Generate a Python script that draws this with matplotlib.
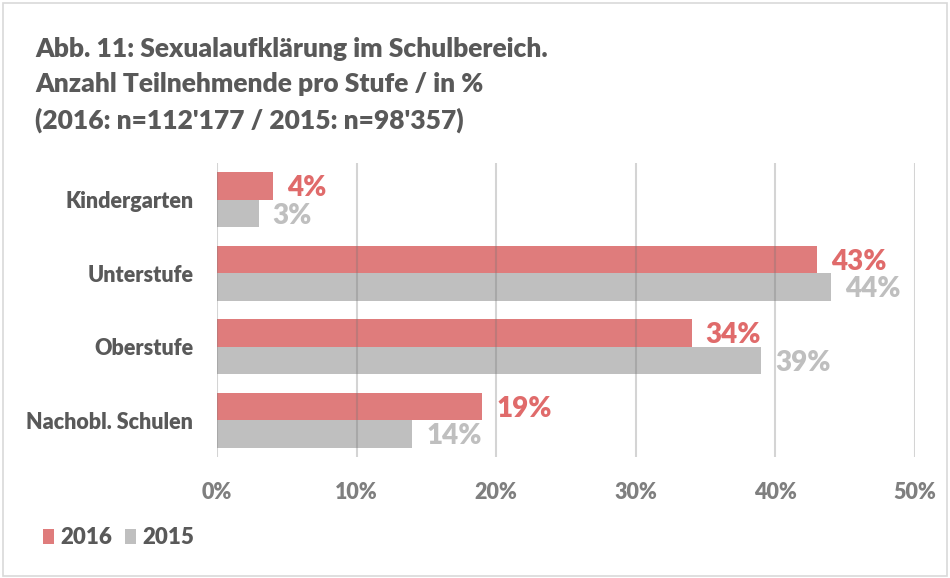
import matplotlib.pyplot as plt
import numpy as np
from matplotlib.patches import Rectangle

plt.rcParams['font.family'] = ['Lato', 'DejaVu Sans']

categories = ['Kindergarten', 'Unterstufe', 'Oberstufe', 'Nachobl. Schulen']
values_2016 = [4, 43, 34, 19]
values_2015 = [3, 44, 39, 14]
series_labels = ['2016', '2015']
xticks = [0, 10, 20, 30, 40, 50]

red = '#DF7C7C'
red_text = '#E06B6B'
gray = '#BFBFBF'
text_gray = '#595959'
tick_gray = '#7F7F7F'
wt = 'heavy'

fig = plt.figure(figsize=(9.5, 5.78), dpi=100)
ax = fig.add_axes([0.2284, 0.2093, 0.7347, 0.5087])

y = np.arange(len(categories))
h = 0.375
b1 = ax.barh(y - h / 2, values_2016, height=h, color=red, label=series_labels[0], zorder=1)
b2 = ax.barh(y + h / 2, values_2015, height=h, color=gray, label=series_labels[1], zorder=1)

for yy, v in zip(y, values_2016):
    ax.annotate('{}%'.format(v), (v, yy - h / 2), xytext=(10, -1.5), textcoords='offset points',
                va='center', ha='left', color=red_text, fontsize=20, fontweight=wt)
for yy, v in zip(y, values_2015):
    ax.annotate('{}%'.format(v), (v, yy + h / 2), xytext=(10, -1.5), textcoords='offset points',
                va='center', ha='left', color=gray, fontsize=20, fontweight=wt)

ax.set_xlim(0, 50)
ax.set_ylim(len(categories) - 0.5, -0.5)
ax.set_xticks(xticks)
ax.set_xticklabels(['{}%'.format(t) for t in xticks], fontsize=15.5, fontweight=wt, color=tick_gray)
ax.set_yticks(y)
ax.set_yticklabels(categories, fontsize=15.5, fontweight=wt, color=text_gray)
ax.tick_params(length=0)
ax.tick_params(axis='x', pad=18)
ax.tick_params(axis='y', pad=17)
for s in ax.spines.values():
    s.set_visible(False)
for t in xticks:
    ax.axvline(t, color=(0.45, 0.45, 0.45, 0.3), lw=1.5, zorder=2)

fig.text(35 / 950, 1 - 37 / 578, 'Abb. 11: Sexualaufklärung im Schulbereich.\nAnzahl Teilnehmende pro Stufe / in %\n(2016: n=112\'177 / 2015: n=98\'357)',
         ha='left', va='top', fontsize=19, fontweight=wt, color=text_gray, linespacing=1.55)

leg = fig.legend(handles=[b1, b2], labels=series_labels, loc='center left',
                 bbox_to_anchor=(34 / 950, 1 - 538 / 578), ncol=2, frameon=False,
                 handlelength=0.5, handleheight=0.65, handletextpad=0.3, columnspacing=0.55,
                 borderaxespad=0, prop={'size': 16, 'weight': wt})
for t in leg.get_texts():
    t.set_color(text_gray)

fig.patches.append(Rectangle((0.003, 0.003), 0.994, 0.992, transform=fig.transFigure,
                             fill=False, edgecolor='#D9D9D9', lw=1.2))

plt.savefig('out.png', dpi=100)
